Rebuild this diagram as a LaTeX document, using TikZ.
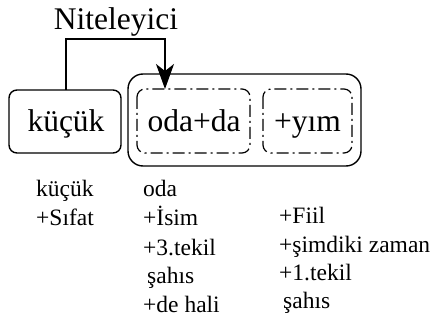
\documentclass[tikz,border=0pt]{standalone}
\usepackage{fontspec}
\setmainfont{Liberation Serif}
\usetikzlibrary{arrows.meta}
\begin{document}
\begin{tikzpicture}[x=1pt,y=-1pt,
  box/.style={draw,line width=1.4pt,rounded corners=8pt},
  part/.style={draw,line width=1.2pt,rounded corners=8pt,dash pattern=on 12pt off 4pt on 2pt off 4pt},
  big/.style={font=\fontsize{31.5}{36}\selectfont,inner sep=0pt},
  small/.style={font=\fontsize{23.5}{28}\selectfont,inner sep=0pt,anchor=base west},
  link/.style={line width=1.3pt,-{Stealth[length=25pt,width=18pt,inset=7pt]}}]
\useasboundingbox (0,0) rectangle (435,320);

% word boxes
\draw[box] (9,90) rectangle (121,153);
\draw[box,rounded corners=15pt] (128,74) rectangle (361,166);
\draw[part] (137,89) rectangle (250,153);
\draw[part] (263,89) rectangle (352,153);

\node[big,anchor=base] (kucuk) at (66,132) {küçük};
\node[big,anchor=base] (oda) at (194,132) {oda+da};
\node[big,anchor=base] (yim) at (307.5,132) {+yım};
\coordinate (kucuktop) at (66,90);
\coordinate (odatop) at (165,89);

% dependency link
\node[big,anchor=base] (rel) at (116,30) {Niteleyici};
\draw[link] (kucuktop) |- (116,39) -| (odatop);

% analyses
\node[small] (a1) at (36,196) {küçük};
\node[small] (a2) at (36,225) {+Sıfat};

\node[small] (b1) at (143,196) {oda};
\node[small] (b2) at (143,225) {+İsim};
\node[small] (b3) at (143,255) {+3.tekil};
\node[small] (b4) at (147,283) {şahıs};
\node[small] (b5) at (143,312) {+de hali};

\node[small] (c1) at (279,223) {+Fiil};
\node[small] (c2) at (279,252) {+şimdiki zaman};
\node[small] (c3) at (279,280) {+1.tekil};
\node[small] (c4) at (283,308) {şahıs};
\end{tikzpicture}
\end{document}
